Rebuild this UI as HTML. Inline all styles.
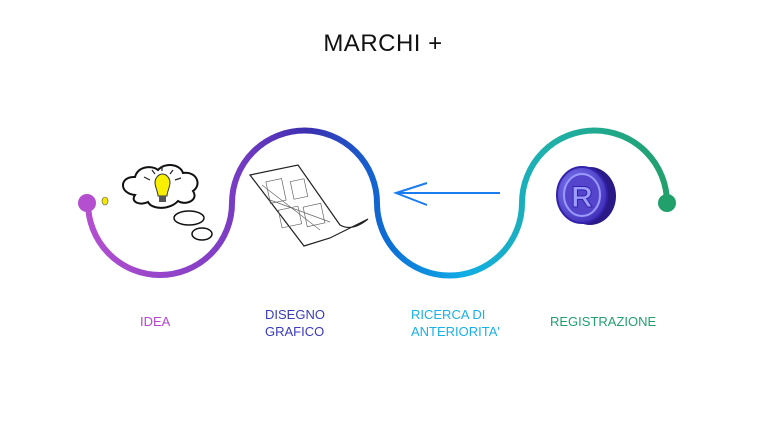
<!DOCTYPE html>
<html><head><style>
body{margin:0;background:#fff;width:768px;height:428px;overflow:hidden;font-family:"Liberation Sans","DejaVu Sans",sans-serif}
.t{position:absolute;font-size:13px;line-height:17px}
</style></head><body>
<svg width="768" height="428" style="position:absolute;left:0;top:0">
<defs>
<linearGradient id="g" x1="87" y1="0" x2="667" y2="0" gradientUnits="userSpaceOnUse">
<stop offset="0" stop-color="#b44fd0"/>
<stop offset="0.25" stop-color="#7a3cc4"/>
<stop offset="0.38" stop-color="#3b2fb0"/>
<stop offset="0.52" stop-color="#0b6fd6"/>
<stop offset="0.65" stop-color="#12ade6"/>
<stop offset="0.8" stop-color="#1fb0a8"/>
<stop offset="1" stop-color="#22a06c"/>
</linearGradient>
<radialGradient id="rg" cx="0.4" cy="0.4" r="0.6"><stop offset="0" stop-color="#8a8aff"/><stop offset="1" stop-color="#4433bb"/></radialGradient>
</defs>
<path d="M88,203 A72,72 0 0 0 232,203 A72.5,72.5 0 0 1 377,203 A72.5,72.5 0 0 0 522,203 A72.5,72.5 0 0 1 667,203" fill="none" stroke="url(#g)" stroke-width="6"/>
<circle cx="87" cy="203" r="9" fill="#b44fd0"/>
<circle cx="667" cy="203" r="9" fill="#22a06c"/>
<line x1="500" y1="193" x2="396" y2="193" stroke="#1a7cf0" stroke-width="2"/>
<path d="M427,183 L396,193 L427,205" fill="none" stroke="#1a7cf0" stroke-width="2"/>
<ellipse cx="105" cy="201" rx="3" ry="4" fill="#f5e800" stroke="#555" stroke-width="0.6"/>
<path d="M135,195 C118,193 120,176 135,177 C138,166 152,165 158,170 C165,162 180,164 183,173 C197,171 202,185 193,191 C199,200 186,206 178,201 C170,210 152,210 148,202 C140,206 130,202 135,195 Z" fill="#fff" stroke="#111" stroke-width="2"/>
<path d="M168,177 C173,183 167,190 167,196 L158,196 C158,190 152,183 157,177 C160,173 165,173 168,177Z" fill="#f8f000" stroke="#333" stroke-width="1"/>
<rect x="159" y="196" width="7" height="6" fill="#555"/>
<path d="M150,180 l-6,-3 M175,180 l6,-2 M162,171 l0,-5 M155,174 l-3,-4 M170,174 l3,-4" stroke="#222" stroke-width="1.2"/>
<ellipse cx="189" cy="218" rx="15" ry="7" fill="#fff" stroke="#111" stroke-width="1.5"/>
<ellipse cx="202" cy="234" rx="10" ry="6" fill="#fff" stroke="#111" stroke-width="1.5"/>
<path d="M250,175 L298,165 L340,225 Q352,232 368,219 L330,238 L304,246 Z" fill="#fff" stroke="#222" stroke-width="1.2"/>
<g stroke="#666" stroke-width="0.7" fill="none">
<rect x="268" y="180" width="16" height="22" transform="rotate(-12 276 191)"/>
<rect x="292" y="180" width="14" height="18" transform="rotate(-12 299 189)"/>
<rect x="280" y="208" width="20" height="18" transform="rotate(-12 290 217)"/>
<rect x="305" y="205" width="18" height="20" transform="rotate(-12 314 215)"/>
<path d="M262,185 L320,230 M270,200 L330,222"/>
</g>
<ellipse cx="590" cy="196" rx="26" ry="29" fill="#2a1a88"/>
<ellipse cx="582" cy="195" rx="25" ry="28" fill="url(#rg)" stroke="#3322aa" stroke-width="2"/>
<ellipse cx="582" cy="195" rx="18" ry="21" fill="#5544cc" stroke="#9999ff" stroke-width="2"/>
<text x="582" y="207" text-anchor="middle" font-family="Liberation Sans" font-weight="bold" font-size="30" fill="#9c9cff" stroke="#3322aa" stroke-width="1">R</text>
</svg>
<div class="t" style="left:0;width:766px;top:29px;text-align:center;font-size:24px;line-height:30px;color:#111;letter-spacing:0.5px">MARCHI +</div>
<div class="t" style="left:140px;top:313px;color:#b447cf">IDEA</div>
<div class="t" style="left:265px;top:306px;color:#3a3bbd">DISEGNO<br>GRAFICO</div>
<div class="t" style="left:411px;top:306px;color:#1ab0e8">RICERCA DI<br>ANTERIORITA'</div>
<div class="t" style="left:550px;top:313px;color:#23a070">REGISTRAZIONE</div>
</body></html>
